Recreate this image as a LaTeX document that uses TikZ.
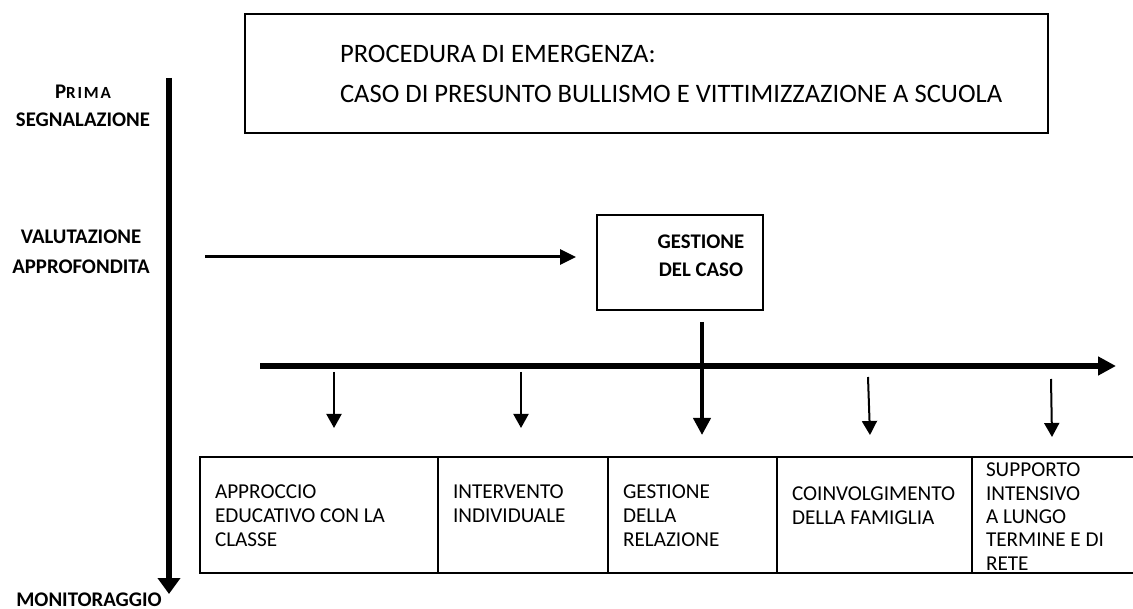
\documentclass[tikz,border=0pt]{standalone}
\usepackage{fontspec}
\setmainfont{Carlito}
\usetikzlibrary{arrows.meta}
\begin{document}
\begin{tikzpicture}[x=1pt,y=-1pt,
  every node/.style={inner sep=0pt, outer sep=0pt},
  lbl/.style={font=\fontsize{20.8}{28}\selectfont\bfseries, align=center, anchor=north},
  cell/.style={font=\fontsize{21.2}{24}\selectfont, align=left, anchor=north west},
  box/.style={draw, line width=1.4pt},
  tbl/.style={line width=2pt},
  thinarrow/.style={line width=2pt, -{Triangle[length=14pt,width=15pt]}},
  timeline/.style={line width=6pt, -{Triangle[length=16pt,width=22pt]}},
]
\useasboundingbox (0,0) rectangle (1133,609);

% title box
\node[box, minimum width=803pt, minimum height=119pt, anchor=north west] (title) at (245,14) {};
\node[font=\fontsize{26.6}{40}\selectfont, align=left, anchor=north west] (ttext) at (340,45)
  {PROCEDURA DI EMERGENZA:\\CASO DI PRESUNTO BULLISMO E VITTIMIZZAZIONE A SCUOLA};

% vertical time axis
\coordinate (vtop) at (169,78);
\coordinate (vbot) at (169,594);
\draw[timeline] (vtop) -- (vbot);

% left labels
\node[lbl] (prima) at (83,85) {P{\fontsize{17}{28}\selectfont R\kern1.8pt I\kern1.8pt M\kern1.8pt A}\\SEGNALAZIONE};
\node[lbl, font=\fontsize{20.8}{30}\selectfont\bfseries] (valut) at (81,230) {VALUTAZIONE\\APPROFONDITA};
\node[lbl, anchor=base] (monit) at (89,606) {MONITORAGGIO};

% gestione del caso
\node[box, minimum width=166pt, minimum height=95pt, anchor=north west] (caso) at (597,215) {};
\node[lbl] (casotxt) at (701,235) {GESTIONE\\DEL CASO};

\coordinate (a1s) at (205,257);
\coordinate (a1e) at (576,257);
\draw[line width=3pt, -{Triangle[length=16pt,width=15pt]}] (a1s) -- (a1e);

\coordinate (cs) at (702,322);
\coordinate (ce) at (702,435);
\draw[line width=4pt, -{Triangle[length=17pt,width=17pt]}] (cs) -- (ce);

% long horizontal arrow
\coordinate (hs) at (260,366);
\coordinate (he) at (1116,366);
\draw[line width=6pt, -{Triangle[length=18pt,width=18pt]}] (hs) -- (he);

% small arrows
\coordinate (s1a) at (334,372); \coordinate (s1b) at (334,428);
\coordinate (s2a) at (521,372); \coordinate (s2b) at (521,428);
\coordinate (s3a) at (868,377); \coordinate (s3b) at (870,435);
\coordinate (s4a) at (1051,379); \coordinate (s4b) at (1052,437);
\draw[thinarrow] (s1a) -- (s1b);
\draw[thinarrow] (s2a) -- (s2b);
\draw[thinarrow] (s3a) -- (s3b);
\draw[thinarrow] (s4a) -- (s4b);

% table
\coordinate (tTR) at (1133,457);
\coordinate (tTL) at (200,457);
\coordinate (tBL) at (200,573);
\coordinate (tBR) at (1133,573);
\draw[tbl] (tTR) -- (tTL) -- (tBL) -- (tBR);
\foreach \xx/\nm in {438/d1,608/d2,777/d3,972/d4}{
  \coordinate (\nm t) at (\xx,457);
  \coordinate (\nm b) at (\xx,573);
  \draw[tbl] (\nm t) -- (\nm b);
}

\node[cell] (c1) at (215,485) {APPROCCIO\\EDUCATIVO CON LA\\CLASSE};
\node[cell] (c2) at (453,485) {INTERVENTO\\INDIVIDUALE};
\node[cell] (c3) at (623,485) {GESTIONE\\DELLA\\RELAZIONE};
\node[cell] (c4) at (792,487) {COINVOLGIMENTO\\DELLA FAMIGLIA};
\node[cell, font=\fontsize{21.2}{23.4}\selectfont] (c5) at (986,463) {SUPPORTO\\INTENSIVO\\A LUNGO\\TERMINE E DI\\RETE};
\end{tikzpicture}
\end{document}
